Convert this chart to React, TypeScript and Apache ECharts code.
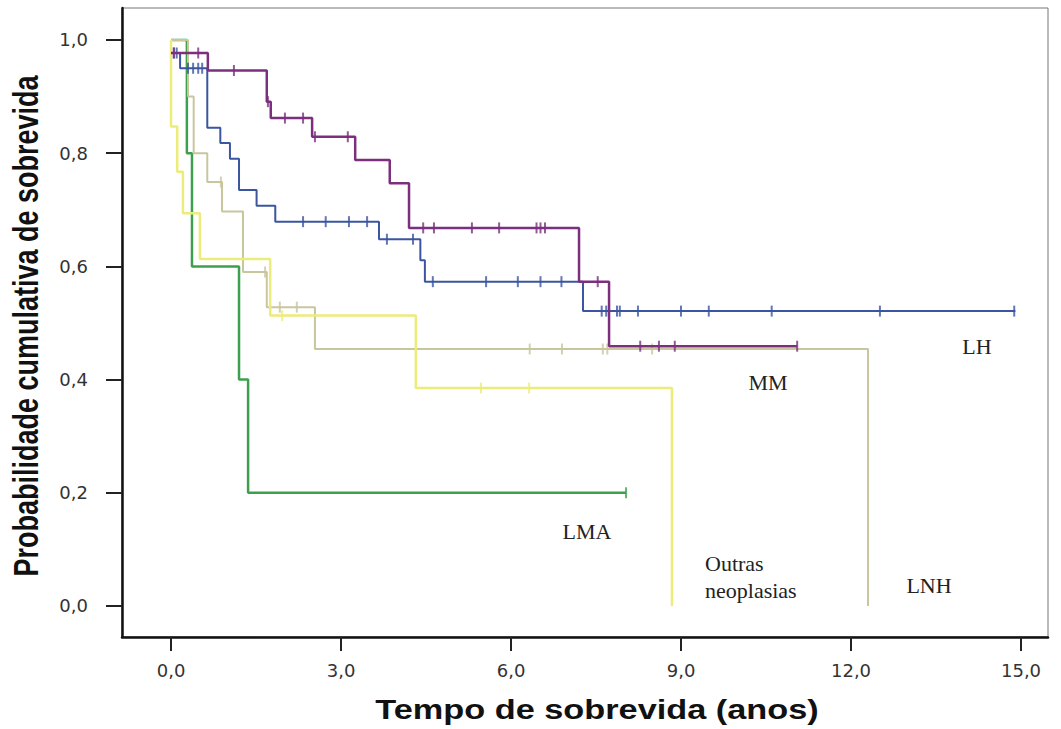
import React, { useEffect, useRef } from "react";
import * as echarts from "echarts";

// Kaplan-Meier steps: [time of event (years), survival after event]
const mmSteps: [number, number][] = [
  [0, 0.977], [0.65, 0.946], [1.69, 0.891], [1.76, 0.862], [2.49, 0.829], [3.25, 0.788],
  [3.86, 0.747], [4.2, 0.668], [7.2, 0.573], [7.73, 0.459], [11.05, 0.459],
];
const mmCensored = [0.05, 0.48, 1.11, 1.71, 2.01, 2.33, 2.54, 3.12, 4.45, 4.64, 5.31, 5.79, 6.45, 6.52, 6.6, 7.53, 8.28, 8.61, 8.89, 11.05];

const lhSteps: [number, number][] = [
  [0, 0.977], [0.16, 0.95], [0.64, 0.845], [0.87, 0.818], [1.04, 0.79], [1.2, 0.735],
  [1.51, 0.707], [1.84, 0.679], [3.67, 0.648], [4.4, 0.611], [4.48, 0.573], [7.27, 0.521], [14.9, 0.521],
];
const lhCensored = [0.05, 0.1, 0.3, 0.39, 0.48, 0.55, 2.33, 2.73, 3.14, 3.46, 3.81, 4.27, 4.62, 5.56, 6.12, 6.52, 6.89, 7.6, 7.68, 7.87, 7.92, 8.24, 9.0, 9.49, 10.6, 12.51, 14.88];

const lmaSteps: [number, number][] = [
  [0, 1], [0.28, 0.8], [0.37, 0.6], [1.2, 0.4], [1.36, 0.2], [8.03, 0.2],
];
const lmaCensored = [8.03];

const outrasSteps: [number, number][] = [
  [0, 1], [0, 0.847], [0.11, 0.767], [0.21, 0.694], [0.51, 0.613], [1.75, 0.513], [4.32, 0.385], [8.84, 0],
];
const outrasCensored = [1.96, 5.47, 6.32];

const lnhSteps: [number, number][] = [
  [0, 1], [0.3, 0.9], [0.4, 0.8], [0.64, 0.749], [0.9, 0.697], [1.27, 0.59], [1.69, 0.528], [2.54, 0.454], [12.3, 0],
];
const lnhCensored = [0.88, 1.66, 1.92, 2.22, 6.33, 6.9, 7.62, 7.7, 8.49];

const xTicks = [0, 3, 6, 9, 12, 15];
const yTicks = [0, 0.2, 0.4, 0.6, 0.8, 1.0];

const groupLabels = [
  { text: "LH", x: 977, y: 346 },
  { text: "MM", x: 768, y: 382 },
  { text: "LMA", x: 587, y: 531 },
  { text: "Outras", x: 705, y: 563, left: true },
  { text: "neoplasias", x: 705, y: 590, left: true },
  { text: "LNH", x: 929, y: 585 },
];

function sAt(steps: [number, number][], t: number): number {
  let s = steps[0][1];
  for (const [ti, si] of steps) {
    if (ti <= t) s = si;
  }
  return s;
}

const fmt = (v: number) => v.toFixed(1).replace(".", ",");

export default function App() {
  const ref = useRef<HTMLDivElement>(null);
  useEffect(() => {
    document.body.style.margin = "0";
    if (!ref.current) return;
    const chart = echarts.init(ref.current, null, { renderer: "svg" });
    const groups = [
      { name: "LMA", steps: lmaSteps, cens: lmaCensored, color: "#3DA04F", w: 2.5 },
      { name: "LNH", steps: lnhSteps, cens: lnhCensored, color: "#C9C69E", w: 2 },
      { name: "Outras neoplasias", steps: outrasSteps, cens: outrasCensored, color: "#ECEC7A", w: 2.5 },
      { name: "LH", steps: lhSteps, cens: lhCensored, color: "#3B55A0", w: 2 },
      { name: "MM", steps: mmSteps, cens: mmCensored, color: "#7B2F7D", w: 2.5 },
    ];
    const series: any[] = [];
    groups.forEach((g, i) => {
      series.push({
        type: "line",
        name: g.name,
        step: "end",
        data: g.steps,
        symbol: "none",
        showSymbol: false,
        lineStyle: { color: g.color, width: g.w },
        z: 2 + i,
        silent: true,
      });
      series.push({
        type: "scatter",
        name: g.name + " censurado",
        data: g.cens.map((t) => [t, sAt(g.steps, t)]),
        symbol: "rect",
        symbolSize: [2, 11],
        itemStyle: { color: g.color },
        z: 2 + i,
        silent: true,
      });
    });
    const baseFont = '"Liberation Sans", Arial, sans-serif';
    chart.setOption({
      animation: false,
      backgroundColor: "#ffffff",
      grid: {
        left: 122, right: 13, top: 8, bottom: 92,
        show: true, borderColor: "#777", borderWidth: 1,
      },
      xAxis: {
        type: "value",
        min: -0.865,
        max: 15.476,
        axisLine: { show: true, onZero: false, lineStyle: { color: "#111", width: 2.5 } },
        axisTick: { show: true, customValues: xTicks, length: 14, lineStyle: { color: "#222", width: 2 } },
        axisLabel: {
          customValues: xTicks, formatter: fmt, margin: 24,
          fontFamily: '"DejaVu Sans", sans-serif', fontSize: 18, color: "#333",
        },
        splitLine: { show: false },
      },
      yAxis: {
        type: "value",
        min: -0.0548,
        max: 1.0565,
        axisLine: { show: true, onZero: false, lineStyle: { color: "#111", width: 2.5 } },
        axisTick: { show: true, customValues: yTicks, length: 16, lineStyle: { color: "#222", width: 2 } },
        axisLabel: {
          customValues: yTicks, formatter: fmt, margin: 34,
          fontFamily: '"DejaVu Sans", sans-serif', fontSize: 18, color: "#333",
        },
        splitLine: { show: false },
      },
      graphic: [
        {
          type: "text", x: 26, y: 326, rotation: Math.PI / 2, scaleY: 1.27,
          style: {
            text: "Probabilidade cumulativa de sobrevida",
            font: "bold 27px " + baseFont, fill: "#111",
            align: "center", verticalAlign: "middle",
          },
        },
        {
          type: "text", x: 597, y: 710, scaleX: 1.27,
          style: {
            text: "Tempo de sobrevida (anos)",
            font: "bold 27px " + baseFont, fill: "#111",
            align: "center", verticalAlign: "middle",
          },
        },
        ...groupLabels.map((l) => ({
          type: "text", x: l.x, y: l.y,
          style: {
            text: l.text,
            font: '22px "Liberation Serif", "Times New Roman", serif', fill: "#222",
            align: l.left ? "left" : "center", verticalAlign: "middle",
          },
        })),
      ],
      series,
    });
    return () => chart.dispose();
  }, []);
  return <div ref={ref} style={{ width: 1061, height: 729 }} />;
}
